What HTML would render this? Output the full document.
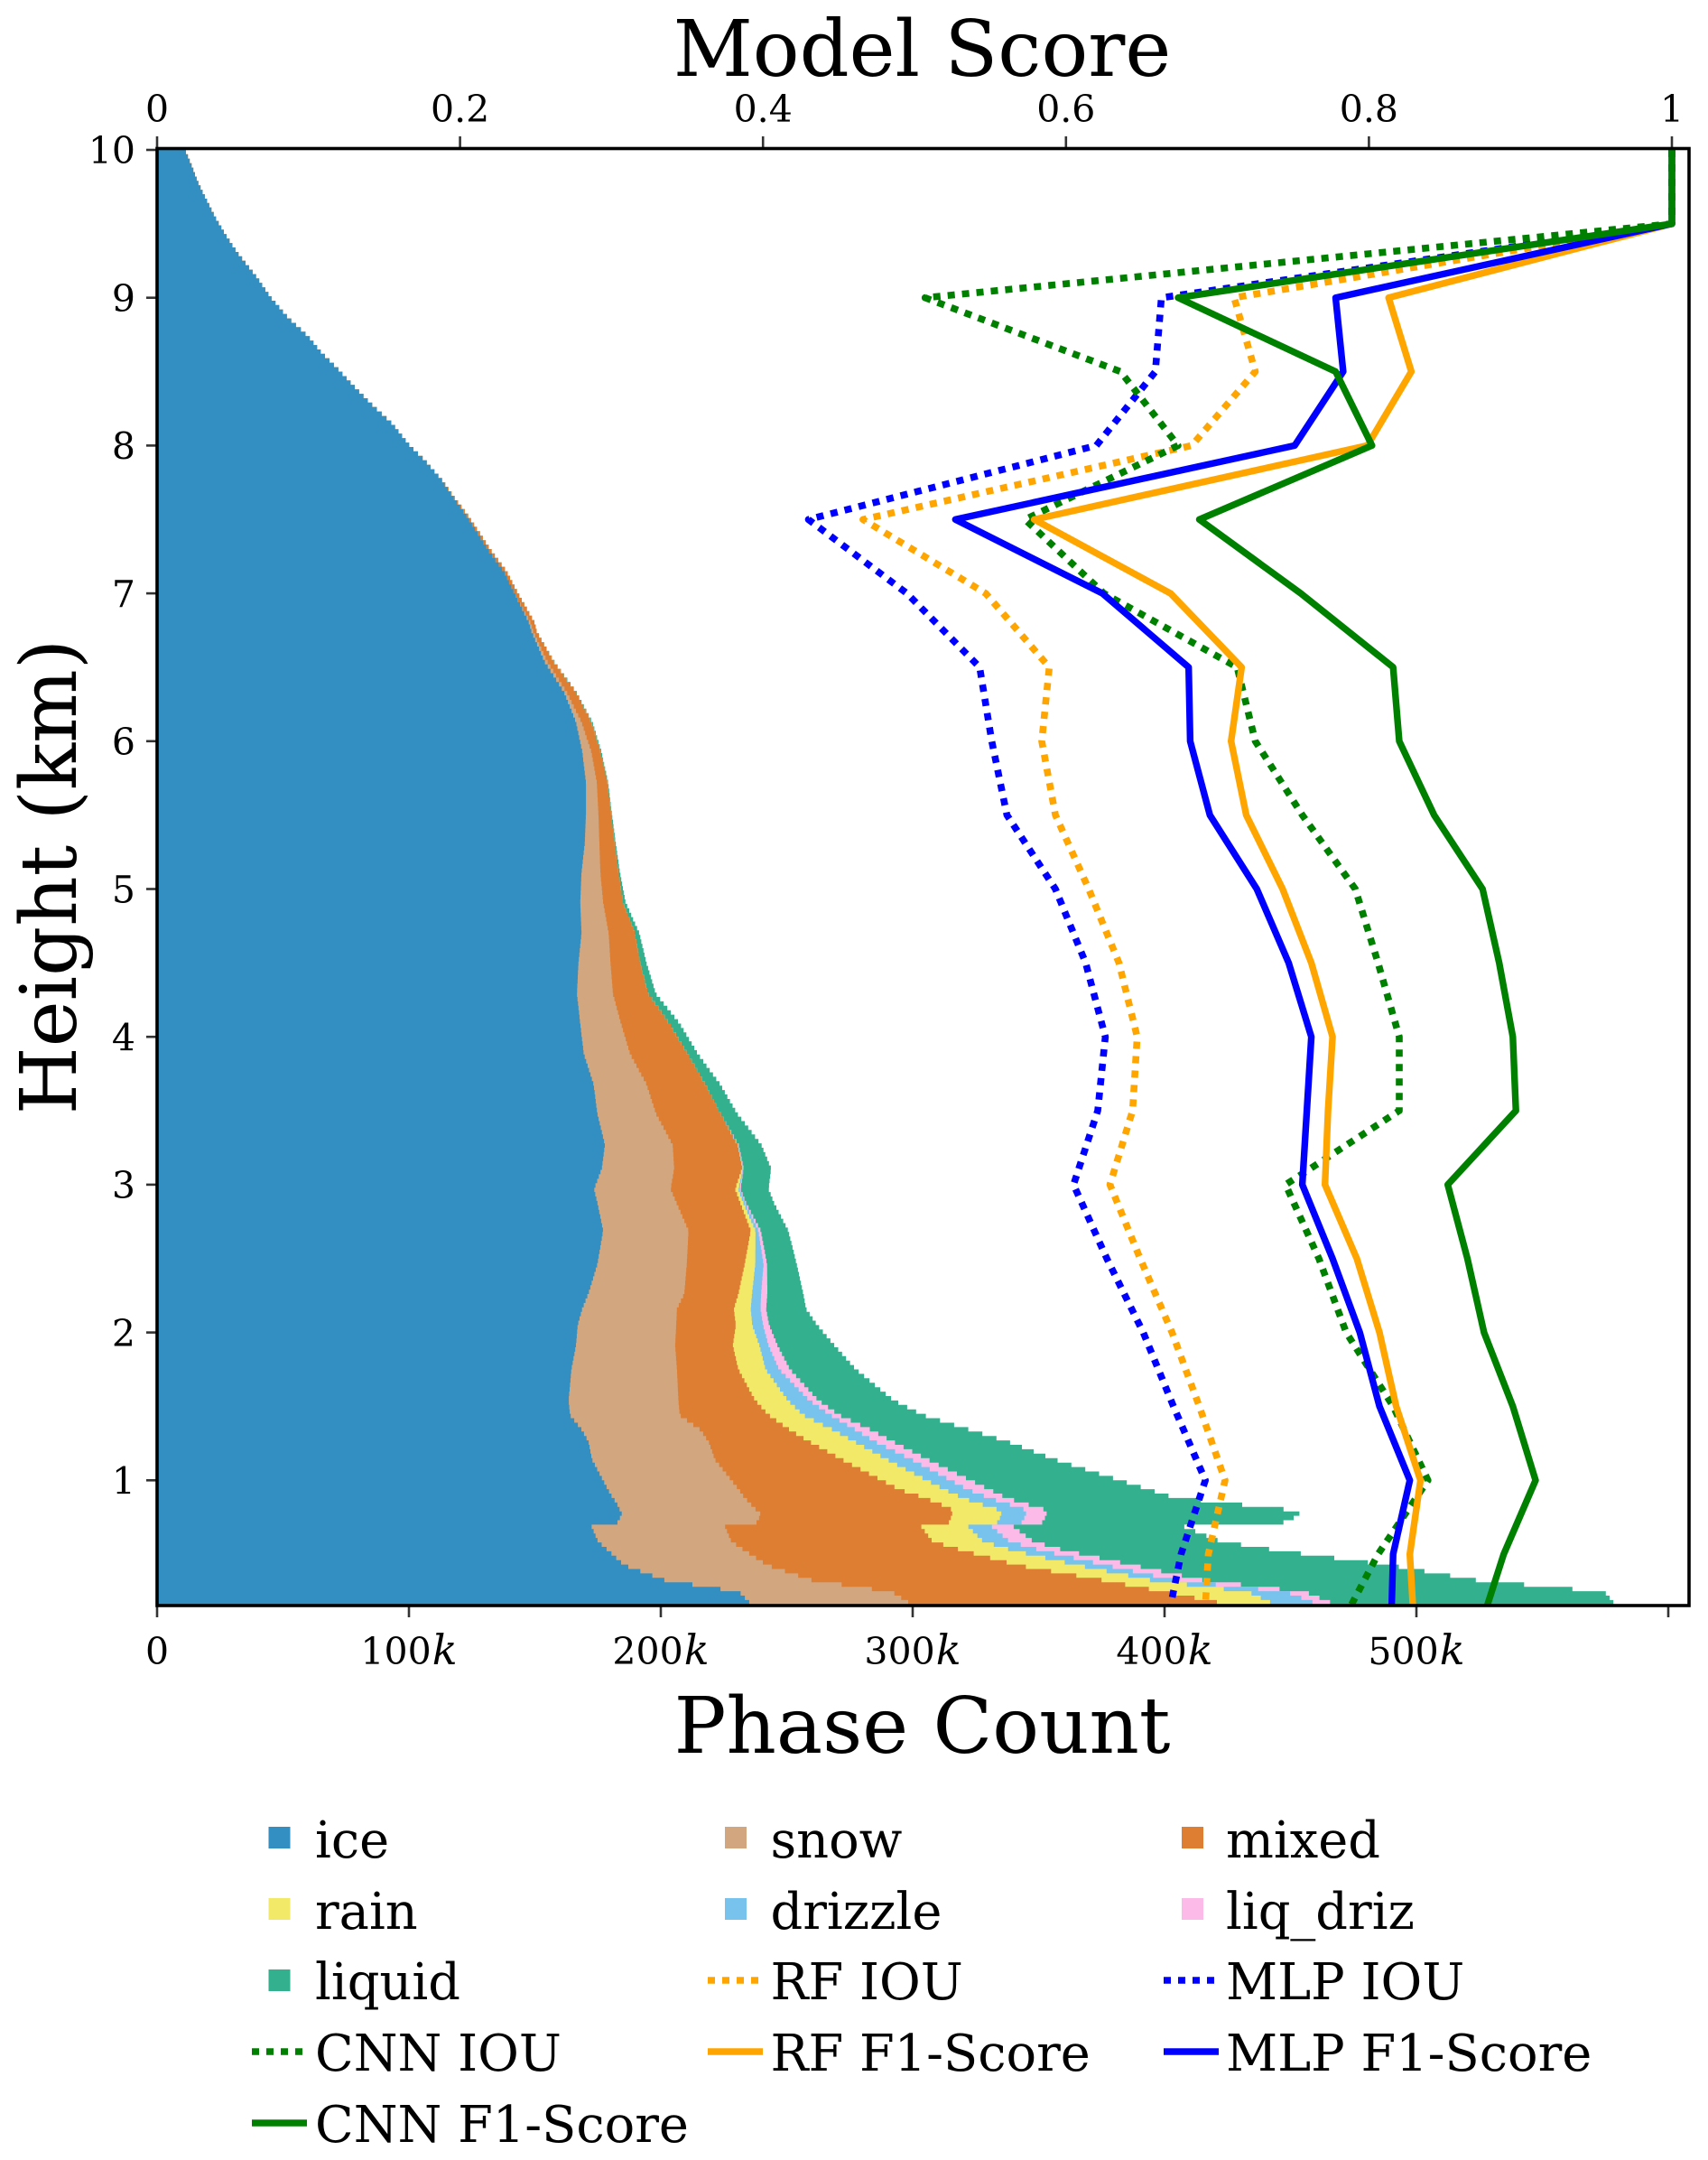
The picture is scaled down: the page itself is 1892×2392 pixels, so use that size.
<!DOCTYPE html>
<html lang="en">
<head>
<meta charset="utf-8">
<title>Phase Count and Model Score by Height</title>
<style>
  html,body{margin:0;padding:0;background:#fff;}
  svg{display:block;}
  text{font-family:"DejaVu Serif","Liberation Serif",serif;fill:#000;}
  .tick-text{font-size:41px;}
  .axis-title{font-size:86px;}
  .legend-text{font-size:55.8px;}
</style>
</head>
<body>
<svg id="chart" xmlns="http://www.w3.org/2000/svg" width="1892" height="2392" viewBox="0 0 1892 2392">
  <defs>
    <clipPath id="plot-clip"><rect x="174" y="164" width="1697" height="1614"/></clipPath>
  </defs>
  <rect x="0" y="0" width="1892" height="2392" fill="#fff"/>
  <g id="areas" clip-path="url(#plot-clip)"></g>
  <g id="lines" clip-path="url(#plot-clip)"></g>
  <g id="ticks"></g>
  <rect x="174" y="164.5" width="1697" height="1613.5" fill="none" stroke="#000" stroke-width="3.6"/>

  <text class="axis-title" x="1021.5" y="84" text-anchor="middle">Model Score</text>
  <text class="axis-title" x="1021.5" y="1941" text-anchor="middle">Phase Count</text>
  <text class="axis-title" transform="translate(84 971) rotate(-90)" text-anchor="middle">Height (km)</text>

  <g>
    <g>
      <rect x="297.5" y="2023" width="24" height="24" fill="#338EC1"/>
      <text class="legend-text" x="349" y="2057">ice</text>
    </g>
    <g>
      <rect x="803" y="2023" width="24" height="24" fill="#D2A67F"/>
      <text class="legend-text" x="853.5" y="2057">snow</text>
    </g>
    <g>
      <rect x="1309" y="2023" width="24" height="24" fill="#DD7E33"/>
      <text class="legend-text" x="1358" y="2057">mixed</text>
    </g>
    <g>
      <rect x="297.5" y="2102" width="24" height="24" fill="#F3E968"/>
      <text class="legend-text" x="349" y="2136">rain</text>
    </g>
    <g>
      <rect x="803" y="2102" width="24" height="24" fill="#78C3ED"/>
      <text class="legend-text" x="853.5" y="2136">drizzle</text>
    </g>
    <g>
      <rect x="1309" y="2102" width="24" height="24" fill="#FBBAE8"/>
      <text class="legend-text" x="1358" y="2136">liq_driz</text>
    </g>
    <g>
      <rect x="297.5" y="2181" width="24" height="24" fill="#33B18F"/>
      <text class="legend-text" x="349" y="2214">liquid</text>
    </g>
    <g>
      <line x1="784" x2="842" y1="2193" y2="2193" stroke="#FFA500" stroke-width="7.6" stroke-dasharray="8 8"/>
      <text class="legend-text" x="853.5" y="2214">RF IOU</text>
    </g>
    <g>
      <line x1="1289" x2="1347" y1="2193" y2="2193" stroke="#0000FF" stroke-width="7.6" stroke-dasharray="8 8"/>
      <text class="legend-text" x="1358" y="2214">MLP IOU</text>
    </g>
    <g>
      <line x1="279" x2="337" y1="2272" y2="2272" stroke="#008000" stroke-width="7.6" stroke-dasharray="8 8"/>
      <text class="legend-text" x="349" y="2293">CNN IOU</text>
    </g>
    <g>
      <line x1="784" x2="845" y1="2272" y2="2272" stroke="#FFA500" stroke-width="7.4"/>
      <text class="legend-text" x="853.5" y="2293">RF F1-Score</text>
    </g>
    <g>
      <line x1="1289" x2="1350" y1="2272" y2="2272" stroke="#0000FF" stroke-width="7.4"/>
      <text class="legend-text" x="1358" y="2293">MLP F1-Score</text>
    </g>
    <g>
      <line x1="279" x2="340" y1="2351" y2="2351" stroke="#008000" stroke-width="7.4"/>
      <text class="legend-text" x="349" y="2372">CNN F1-Score</text>
    </g>
  </g>
</svg>

<script>
// ---- tick data ----
const heightTicks = [10,9,8,7,6,5,4,3,2,1];
const countTicks = [0,100,200,300,400,500,600];
const countTickLabels = ['0','100','200','300','400','500',''];
const scoreTicks = [0,0.2,0.4,0.6,0.8,1];
const scoreTickLabels = ['0','0.2','0.4','0.6','0.8','1'];

// ---- phase counts (thousands) per class at each height ----
const heightKm = [10,9.89,9.77,9.67,9.55,9.42,9.3,9.145,9,8.86,8.74,8.63,8.52,8.4,8.27,8.15,8,7.9,7.77,7.65,7.53,7.4,7.27,7.15,7,6.8,6.74,6.54,6.33,6.13,5.93,5.72,5.52,5.31,5.11,4.91,4.7,4.5,4.29,4.09,3.885,3.68,3.48,3.27,3.11,2.97,2.87,2.69,2.46,2.26,2.16,2.05,1.91,1.75,1.54,1.44,1.34,1.26,1.14,0.935,0.89,0.85,0.81,0.77,0.7,0.69,0.587,0.525,0.425,0.325,0.245,0.175,0.15];
const iceCounts = [11.1,13.8,16.5,19.4,22.9,27.4,32.1,39.3,45.2,52.3,59.9,65.2,71.7,78.2,85.7,93.3,100.3,106.3,112.8,117.6,122.6,127.5,132.3,137.6,141.9,147.7,148.7,153.8,161.6,166.3,168.8,170.3,170.3,169.8,168.5,168.0,168.5,167.3,166.7,168.0,169.4,173.3,174.8,177.8,176.6,173.5,174.9,177.1,174.8,171.2,168.8,167.0,166.3,164.5,163.4,164.0,168.7,171.3,172.7,179.1,180.6,182.3,183.5,184.6,182.3,172.4,175.1,179.1,185.5,201.4,231.1,235.1,235.1];
const snowCounts = [0,0,0,0,0,0,0,0,0,0,0,0,0,0,0,0,0,0,0,0,0,0,0,0,0,0.7,0.7,1.1,1.1,2.2,3.6,4.3,4.9,5.8,7.5,9.1,10.8,12.7,14.3,16.2,18.4,21.0,23.3,26.9,28.7,30.4,31.5,33.9,35.5,38.1,37.6,39.1,39.4,41.9,43.6,43.5,47.1,47.7,48.8,52.0,52.3,52.8,53.8,55.2,55.2,53.0,52.9,54.2,56.8,58.4,60.7,63.1,63.1];
const mixedCounts = [0,0,0,0,0,0,0,0,0,0,0,0,0,0,0,0,0,0,0.2,0.4,0.7,0.9,1.1,1.2,1.4,1.6,1.4,2.5,3.6,3.9,3.6,4.2,5.0,6.0,7.2,7.9,10.4,11.8,14.0,19.2,22.8,23.3,25.6,25.7,27.0,25.6,25.3,24.7,23.0,21.5,22.6,23.7,22.9,24.4,30.5,35.4,35.5,40.1,50.5,63.9,70.3,74.2,77.8,76.0,76.5,77.8,79.9,86.6,99.3,115.2,108.2,122.6,122.6];
const rainCounts = [0,0,0,0,0,0,0,0,0,0,0,0,0,0,0,0,0,0,0,0,0,0,0,0,0,0,0,0,0,0,0,0,0,0,0,0,0,0,0,0,0,0,0,0.1,0.2,1.3,1.2,1.9,4.2,5.4,6.7,6.5,10.6,10.8,13.0,13.7,17.2,17.9,17.9,17.9,15.4,15.4,17.9,19.7,19.0,18.6,20.1,19.9,23.9,19.2,33.3,21.1,21.1];
const drizzleCounts = [0,0,0,0,0,0,0,0,0,0,0,0,0,0,0,0,0,0,0,0,0,0,0,0,0,0,0,0,0,0,0,0,0,0,0,0,0,0,0,0,0,0,0,0.2,0.2,0.5,0.7,1.1,3.3,3.6,3.9,4.3,3.6,5.4,8.5,10.8,9.0,8.2,9.7,9.3,10.4,10.8,10.8,9.7,9.7,9.3,10.4,11.3,11.2,9.3,15.1,16.8,16.8];
const liqDrizCounts = [0,0,0,0,0,0,0,0,0,0,0,0,0,0,0,0,0,0,0,0,0,0,0,0,0,0,0,0,0,0,0,0,0,0,0,0,0,0,0,0,0,0,0,0.2,0.2,0.4,0.4,1.0,1.4,2.5,2.2,2.4,3.6,4.3,3.6,3.6,6.1,7.2,6.5,8.6,7.2,7.2,7.9,8.2,8.2,8.6,9.5,9.5,11.1,11.5,7.5,7.0,7.0];
const liquidCounts = [0,0,0,0,0,0,0,0,0,0,0,0,0,0,0,0,0,0,0,0,0,0,0,0,0,0,0,0.2,0.2,0.4,0.4,0.3,0.3,0.5,0.6,1.0,1.8,2.5,3.1,4.1,4.1,5.9,6.7,9.0,10.9,11.1,11.1,10.9,11.8,14.3,15.9,19.1,22.7,26.2,29.9,33.3,39.4,45.5,50.5,63.4,66.3,78.9,94.5,101.2,94.3,67.4,74.3,84.6,101.8,108.6,118.8,112.5,112.5];

// ---- model scores at each height ----
const scoreHeights = [10,9.5,9,8.5,8,7.5,7,6.5,6,5.5,5,4.5,4,3.5,3,2.5,2,1.5,1,0.5,0.15];
const rfIou = [1,1,0.711,0.725,0.683,0.466,0.547,0.589,0.584,0.593,0.615,0.635,0.647,0.644,0.629,0.649,0.670,0.688,0.705,0.694,0.692];
const mlpIou = [1,1,0.663,0.659,0.620,0.430,0.495,0.543,0.551,0.561,0.593,0.613,0.626,0.621,0.605,0.627,0.651,0.671,0.692,0.676,0.669];
const cnnIou = [1,1,0.507,0.636,0.674,0.573,0.625,0.713,0.725,0.756,0.791,0.806,0.820,0.820,0.745,0.767,0.785,0.816,0.839,0.806,0.788];
const rfF1 = [1,1,0.813,0.828,0.799,0.579,0.669,0.716,0.709,0.719,0.743,0.762,0.776,0.773,0.771,0.792,0.807,0.818,0.834,0.827,0.829];
const mlpF1 = [1,1,0.778,0.783,0.751,0.527,0.624,0.681,0.682,0.695,0.726,0.747,0.762,0.759,0.756,0.776,0.794,0.807,0.827,0.816,0.815];
const cnnF1 = [1,1,0.674,0.778,0.802,0.688,0.755,0.816,0.820,0.843,0.875,0.886,0.895,0.897,0.852,0.865,0.876,0.895,0.910,0.889,0.878];

// ---- axis functions ----
function xCount(k){ return 174 + k * 2.79; }
function xScore(s){ return 174 + s * 1678; }
function yKm(km){ return 166 + (10 - km) * 163.7; }

const NS = 'http://www.w3.org/2000/svg';
function make(tag, attrs){
  const node = document.createElementNS(NS, tag);
  for (const key in attrs) node.setAttribute(key, attrs[key]);
  return node;
}

// ---- stacked areas: each band painted from the axis up to its cumulative edge, outermost first ----
const bandSeries = [iceCounts, snowCounts, mixedCounts, rainCounts, drizzleCounts, liqDrizCounts, liquidCounts];
const bandNames = ['ice','snow','mixed','rain','drizzle','liq-driz','liquid'];
const bandColors = ['#338EC1','#D2A67F','#DD7E33','#F3E968','#78C3ED','#FBBAE8','#33B18F'];
const binKm = 0.03; // the histogram is drawn as 30 m height bins
const areasGroup = document.getElementById('areas');
const cumulative = [];
let running = heightKm.map(function(){ return 0; });
bandSeries.forEach(function(series){
  running = running.map(function(v, i){ return v + series[i]; });
  cumulative.push(running);
});
function edgeAt(edge, km){
  for (let i = 1; i < heightKm.length; i++) {
    if (km >= heightKm[i]) {
      const f = (heightKm[i - 1] - km) / (heightKm[i - 1] - heightKm[i]);
      return edge[i - 1] + f * (edge[i] - edge[i - 1]);
    }
  }
  return edge[edge.length - 1];
}
for (let b = bandSeries.length - 1; b >= 0; b--) {
  const edge = cumulative[b];
  const base = heightKm[heightKm.length - 1];
  let d = 'M' + xCount(0) + ' ' + yKm(heightKm[0]);
  for (let top = heightKm[0]; top > base; top -= binKm) {
    const bottom = Math.max(top - binKm, base);
    const x = xCount(edgeAt(edge, (top + bottom) / 2)).toFixed(1);
    d += 'L' + x + ' ' + yKm(top).toFixed(1) + 'L' + x + ' ' + yKm(bottom).toFixed(1);
  }
  d += 'L' + xCount(edge[edge.length - 1]).toFixed(1) + ' 1778L' + xCount(0) + ' 1778Z';
  const area = make('path', {d: d, fill: bandColors[b]});
  
  
  areasGroup.appendChild(area);
}

// ---- score lines ----
const lineSeries = [rfIou, mlpIou, cnnIou, rfF1, mlpF1, cnnF1];
const lineNames = ['rf-iou','mlp-iou','cnn-iou','rf-f1','mlp-f1','cnn-f1'];
const lineColors = ['#FFA500','#0000FF','#008000','#FFA500','#0000FF','#008000'];
const lineDotted = [true,true,true,false,false,false];
const linesGroup = document.getElementById('lines');
lineSeries.forEach(function(series, s){
  const pts = series.map(function(v, i){
    return xScore(v).toFixed(1) + ',' + yKm(scoreHeights[i]).toFixed(1);
  }).join(' ');
  const line = make('polyline', {
    points: pts, fill: 'none', stroke: lineColors[s],
    'stroke-width': lineDotted[s] ? 7.6 : 7.4, 'stroke-linejoin': 'round'
  });
  if (lineDotted[s]) line.setAttribute('stroke-dasharray', '8 8');
  
  
  linesGroup.appendChild(line);
});

// ---- ticks and tick labels ----
const ticksGroup = document.getElementById('ticks');
const tickStroke = '#333';

heightTicks.forEach(function(km){
  const y = yKm(km);
  const tick = make('line', {x1: 162, x2: 174, y1: y, y2: y, stroke: tickStroke, 'stroke-width': 2.6});
  
  
  ticksGroup.appendChild(tick);
  const label = make('text', {x: 150, y: y + 15.2, 'text-anchor': 'end', 'class': 'tick-text'});
  
  
  label.textContent = String(km);
  ticksGroup.appendChild(label);
});

countTicks.forEach(function(k, i){
  const x = xCount(k);
  const tick = make('line', {x1: x, x2: x, y1: 1778, y2: 1791, stroke: tickStroke, 'stroke-width': 2.6});
  
  
  ticksGroup.appendChild(tick);
  if (!countTickLabels[i]) return;
  const label = make('text', {x: x, y: 1843, 'text-anchor': 'middle', 'class': 'tick-text'});
  
  
  label.textContent = countTickLabels[i];
  if (k > 0) {
    const unit = make('tspan', {'font-style': 'italic', 'font-size': '46', dx: '1'});
    
    
    unit.textContent = 'k';
    label.appendChild(unit);
  }
  ticksGroup.appendChild(label);
});

scoreTicks.forEach(function(v, i){
  const x = xScore(v);
  const tick = make('line', {x1: x, x2: x, y1: 151, y2: 164, stroke: tickStroke, 'stroke-width': 2.6});
  
  
  ticksGroup.appendChild(tick);
  const label = make('text', {x: x, y: 135, 'text-anchor': 'middle', 'class': 'tick-text'});
  
  
  label.textContent = scoreTickLabels[i];
  ticksGroup.appendChild(label);
});
</script>
</body>
</html>
